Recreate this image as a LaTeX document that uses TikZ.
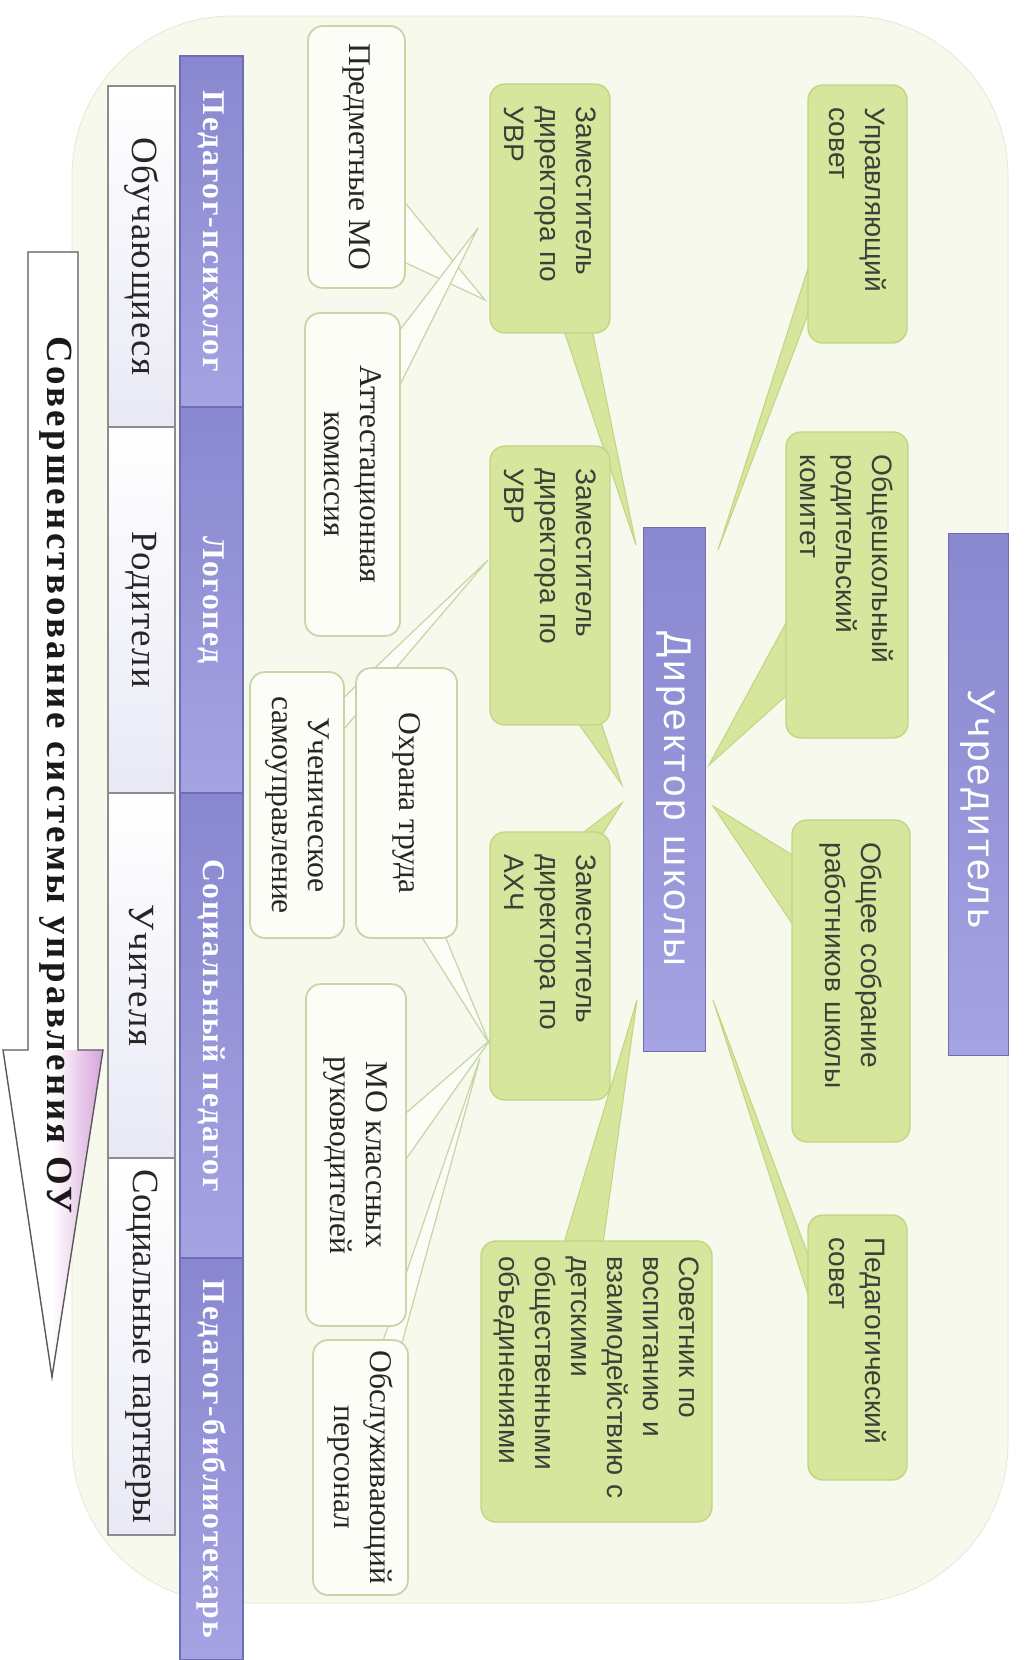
\documentclass[tikz,border=0pt]{standalone}
\usepackage{fontspec}
\setmainfont{Liberation Serif}
\newfontfamily\sansf{Liberation Sans}
\newfontfamily\sanswide[LetterSpace=8]{Liberation Sans}
\newfontfamily\serifwide[LetterSpace=6]{Liberation Serif}
\newfontfamily\serifwider[LetterSpace=9]{Liberation Serif}
\newfontfamily\serifside[LetterSpace=4]{Liberation Serif}
\usetikzlibrary{calc}
\definecolor{panelbg}{HTML}{F7F9ED}
\definecolor{paneledge}{HTML}{E2E8D0}
\definecolor{gfill}{HTML}{D6E69C}
\definecolor{gedge}{HTML}{C2D585}
\definecolor{gtext}{HTML}{3C4038}
\definecolor{purp}{HTML}{8987CF}
\definecolor{purplight}{HTML}{A5A3E2}
\definecolor{purpedge}{HTML}{6F6DB4}
\definecolor{wfill}{HTML}{FCFDF7}
\definecolor{wedge}{HTML}{C6D6A6}
\definecolor{lav}{HTML}{E9E9F6}
\definecolor{pinkhead}{HTML}{D7A2DA}

\pgfdeclarelayer{background}
\pgfsetlayers{background,main}

\begin{document}
\begin{tikzpicture}[x=0.02cm, y=0.02cm,
    greenbox/.style={rotate=-90, draw=gedge, fill=gfill, rounded corners=0.3cm,
        line width=0.8pt, align=left, inner xsep=0.45cm, text=gtext,
        font=\sansf\fontsize{16}{20.5}\selectfont},
    purplebar/.style={rotate=-90, draw=purpedge, top color=purp, bottom color=purplight,
        text=white, inner sep=0pt, font=\sanswide\fontsize{22}{26}\selectfont},
    whitebox/.style={rotate=-90, draw=wedge, fill=wfill, rounded corners=0.3cm,
        line width=1pt, align=center, inner sep=0pt, text=black!85,
        font=\fontsize{18}{20.5}\selectfont},
    sidebox/.style={rotate=-90, draw=black!45, line width=0.8pt, top color=white,
        bottom color=lav, inner sep=0pt, text=black!85, font=\serifside\fontsize{21}{24}\selectfont},
    sidebar/.style={rotate=-90, draw=purpedge, line width=1pt, top color=purp,
        bottom color=purplight, text=white, inner sep=0pt,
        font=\serifwide\bfseries\fontsize{18}{20}\selectfont},
    gtail/.style={fill=gfill, draw=gedge, line width=0.6pt},
    wtail/.style={fill=wfill, draw=wedge, line width=0.7pt}]

    \useasboundingbox (0,0) rectangle (1034,-1660);

    \node[purplebar, minimum width=10.44cm, minimum height=1.2cm] (uchr) at (978,-794) {\hspace*{0.6cm}Учредитель};
    \node[purplebar, minimum width=10.48cm, minimum height=1.24cm] (dir) at (674,-789) {\hspace*{0.4cm}Директор школы};

    \node[greenbox, text width=4.26cm, minimum height=1.98cm] (upr) at (857.5,-214) {Управляющий\\совет};
    \node[greenbox, text width=5.22cm, minimum height=2.44cm] (obsch) at (847,-585) {Общешкольный\\родительский\\комитет};
    \node[greenbox, text width=5.54cm, minimum height=2.36cm] (sobr) at (851,-981) {Общее собрание\\работников школы};
    \node[greenbox, text width=4.4cm, minimum height=1.98cm] (pedsov) at (857.5,-1347.5) {Педагогический\\совет};

    \node[greenbox, text width=4.08cm, minimum height=2.4cm] (uvr1) at (550,-208.5) {Заместитель\\директора по\\УВР};
    \node[greenbox, text width=4.68cm, minimum height=2.4cm] (uvr2) at (550,-585.5) {Заместитель\\директора по\\УВР};
    \node[greenbox, text width=4.46cm, minimum height=2.4cm] (ahch) at (550,-966) {Заместитель\\директора по\\АХЧ};
    \node[greenbox, inner xsep=0.3cm, text width=5.02cm, minimum height=4.62cm] (sovetnik) at (596.5,-1381.5)
        {Советник~по\\воспитанию~и\\взаимодействию~с\\детскими\\общественными\\объединениями};

    \node[whitebox, minimum width=5.24cm, minimum height=1.94cm] (predmo) at (356.5,-157) {Предметные МО};
    \node[whitebox, minimum width=6.46cm, minimum height=1.9cm] (attest) at (352.5,-474.5) {Аттестационная\\комиссия};
    \node[whitebox, minimum width=5.4cm, minimum height=2.02cm] (ohrana) at (406.5,-803) {Охрана труда};
    \node[whitebox, minimum width=5.32cm, minimum height=1.88cm] (uchen) at (297,-805) {Ученическое\\самоуправление};
    \node[whitebox, minimum width=6.84cm, minimum height=2cm] (moklass) at (356,-1155) {МО классных\\руководителей};
    \node[whitebox, minimum width=5.1cm, minimum height=1.9cm] (obsl) at (360.5,-1467.5) {Обслуживающий\\персонал};

    \node[sidebar, minimum width=7.02cm, minimum height=1.26cm] (psih) at (211.5,-231.5) {Педагог-психолог};
    \node[sidebar, minimum width=7.72cm, minimum height=1.26cm] (logo) at (211.5,-600) {Логопед};
    \node[sidebar, minimum width=9.3cm, minimum height=1.26cm] (socped) at (211.5,-1025.5) {Социальный педагог};
    \node[sidebar, minimum width=8.04cm, minimum height=1.26cm] (bibl) at (211.5,-1459) {Педагог-библиотекарь};

    \node[sidebox, minimum width=6.82cm, minimum height=1.34cm] (obuch) at (141.5,-256.5) {Обучающиеся};
    \node[sidebox, minimum width=7.32cm, minimum height=1.34cm] (rodit) at (141.5,-610) {Родители};
    \node[sidebox, minimum width=7.3cm, minimum height=1.34cm] (uchit) at (141.5,-975.5) {Учителя};
    \node[sidebox, minimum width=7.54cm, minimum height=1.34cm, font=\rmfamily\fontsize{21}{24}\selectfont] (partn) at (141.5,-1346.5) {Социальные партнеры};

    \fill[white] (28,-252) -- (78,-252) -- (78,-1050) -- (103,-1050) -- (52,-1377) -- (3,-1050) -- (28,-1050) -- cycle;
    \shade[left color=white, right color=pinkhead] (52,-1050) -- (103,-1050) -- (52,-1377) -- cycle;
    \draw[black!65, line width=0.8pt] (28,-252) -- (78,-252) -- (78,-1050) -- (103,-1050) -- (52,-1377) -- (3,-1050) -- (28,-1050) -- cycle;
    \node[rotate=-90, text=black!90, font=\serifwider\bfseries\fontsize{21}{24}\selectfont] (goal) at (56,-775)
        {Совершенствование системы управления ОУ};

    \coordinate (uprtip) at (718,-550);
    \coordinate (uvrAtip) at (636,-545);
    \coordinate (obschtip) at (709,-765);
    \coordinate (sobrtip) at (713,-806);
    \coordinate (pedtip) at (713,-1000);
    \coordinate (sovtip) at (637,-1000);
    \coordinate (uvrBtip) at (622,-785);
    \coordinate (ahchtip) at (622,-803);

    \coordinate (predtip) at (485,-300);
    \coordinate (attesttip) at (478,-228);
    \coordinate (uchentip) at (488,-560);
    \coordinate (ohranatip) at (490,-1045);
    \coordinate (motip) at (490,-1040);
    \coordinate (obsltip) at (480,-1058);

    \begin{pgfonlayer}{background}
        \fill[panelbg, draw=paneledge, rounded corners=3.2cm] (72,-16) rectangle (1008,-1603);

        \path[gtail] ($(upr.south west)+(8,-161)$) -- (uprtip) -- ($(upr.south west)+(8,-211)$) -- cycle;
        \path[gtail] ($(uvr1.south east)+(73,8)$) -- (uvrAtip) -- ($(uvr1.south east)+(102,8)$) -- cycle;
        \path[gtail] ($(obsch.south west)+(8,-178)$) -- (obschtip) -- ($(obsch.south west)+(8,-258)$) -- cycle;
        \path[gtail] ($(sobr.south west)+(8,-40)$) -- (sobrtip) -- ($(sobr.south west)+(8,-115)$) -- cycle;
        \path[gtail] ($(pedsov.south west)+(8,-60)$) -- (pedtip) -- ($(pedsov.south west)+(8,-103)$) -- cycle;
        \path[gtail] ($(sovetnik.south west)+(82,-8)$) -- (sovtip) -- ($(sovetnik.south west)+(122,-8)$) -- cycle;
        \path[gtail] ($(uvr2.south east)+(85,8)$) -- (uvrBtip) -- ($(uvr2.south east)+(110,8)$) -- cycle;
        \path[gtail] ($(ahch.south west)+(85,-8)$) -- (ahchtip) -- ($(ahch.south west)+(110,-8)$) -- cycle;

        \path[wtail] ($(predmo.north west)+(-8,-169)$) -- (predtip) -- ($(predmo.north west)+(-8,-234)$) -- cycle;
        \path[wtail] ($(attest.north west)+(-8,-27)$) -- (attesttip) -- ($(attest.north west)+(-8,-87)$) -- cycle;
        \path[wtail] ($(uchen.north west)+(-8,-33)$) -- (uchentip) -- ($(uchen.north west)+(-8,-66)$) -- cycle;
        \path[wtail] ($(ohrana.north east)+(-40,8)$) -- (ohranatip) -- ($(ohrana.north east)+(-15,8)$) -- cycle;
        \path[wtail] ($(moklass.north west)+(-8,-136)$) -- (motip) -- ($(moklass.north west)+(-8,-186)$) -- cycle;
        \path[wtail] ($(obsl.north west)+(-28,-8)$) -- (obsltip) -- ($(obsl.north west)+(-8,-8)$) -- cycle;
    \end{pgfonlayer}
\end{tikzpicture}
\end{document}
